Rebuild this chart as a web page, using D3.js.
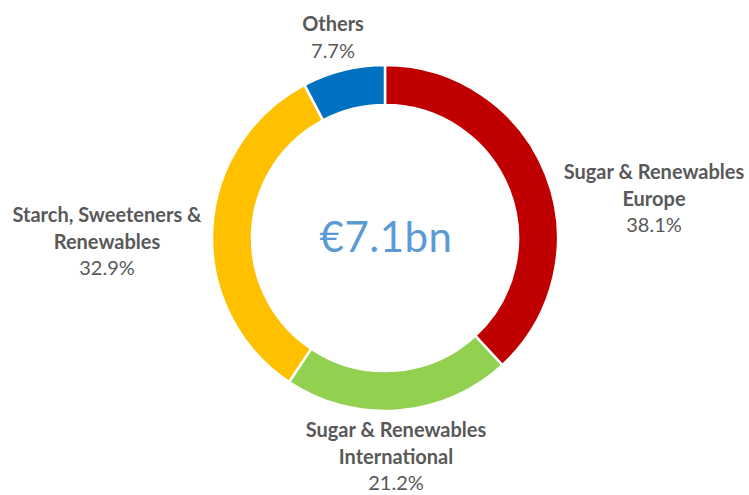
<!DOCTYPE html>
<html>
<head>
<meta charset="utf-8">
<script src="https://cdn.jsdelivr.net/npm/d3@7"></script>
<style>
  html, body { margin: 0; padding: 0; background: #ffffff; }
  svg { display: block; }
</style>
</head>
<body>
<svg id="chart" width="749" height="495"></svg>
<script>
// Segment revenue split, clockwise from 12 o'clock
const segments = [
  "Sugar & Renewables Europe",
  "Sugar & Renewables International",
  "Starch, Sweeteners & Renewables",
  "Others"
];
const shares = [38.1, 21.2, 32.9, 7.7];
const labelLines = [
  ["Sugar & Renewables", "Europe"],
  ["Sugar & Renewables", "International"],
  ["Starch, Sweeteners &", "Renewables"],
  ["Others"]
];
const colors = ["#C00000", "#92D050", "#FFC000", "#0070C0"];
const totalLabel = "€7.1bn";

// Layout
const cx = 385, cy = 238;
const outerR = 173, innerR = 133;
// label block anchors: centre x and first-line baseline
const labelAnchors = [
  { x: 654, y: 179 },
  { x: 396, y: 437 },
  { x: 107, y: 222 },
  { x: 333, y: 31 }
];
const lineGap = 26.5;

const svg = d3.select("#chart");
const g = svg.append("g").attr("transform", `translate(${cx},${cy})`);

const data = segments.map((name, i) => ({ name, value: shares[i], i }));

const pie = d3.pie()
  .value(d => d.value)
  .sort(null)
  .startAngle(0)
  .endAngle(2 * Math.PI);

const arc = d3.arc().innerRadius(innerR).outerRadius(outerR);

g.selectAll("path.slice")
  .data(pie(data))
  .join("path")
  .attr("class", "slice")
  .attr("d", arc)
  .attr("fill", d => colors[d.data.i])
  .attr("stroke", "#ffffff")
  .attr("stroke-width", 2.5)
  .attr("stroke-linejoin", "miter");

// Centre total
g.append("text")
  .attr("x", 1)
  .attr("y", 14)
  .attr("text-anchor", "middle")
  .attr("font-family", "Lato, 'Open Sans', sans-serif")
  .attr("font-size", 42)
  .attr("letter-spacing", 0.5)
  .attr("fill", "#5B9BD5")
  .text(totalLabel);

// Category labels with percentage
const labels = svg.selectAll("g.label")
  .data(data)
  .join("g")
  .attr("class", "label")
  .attr("transform", d => `translate(${labelAnchors[d.i].x},${labelAnchors[d.i].y})`);

labels.each(function (d) {
  const sel = d3.select(this);
  const lines = labelLines[d.i];
  lines.forEach((line, k) => {
    sel.append("text")
      .attr("x", 0)
      .attr("y", k * lineGap)
      .attr("text-anchor", "middle")
      .attr("font-family", "Lato, 'Noto Sans', sans-serif")
      .attr("font-weight", 700)
      .attr("font-size", 20)
      .attr("fill", "#595959")
      .text(line);
  });
  sel.append("text")
    .attr("x", 0)
    .attr("y", lines.length * lineGap)
    .attr("text-anchor", "middle")
    .attr("font-family", "Lato, 'Noto Sans', sans-serif")
    .attr("font-size", 20)
    .attr("fill", "#595959")
    .text(d3.format(".1f")(d.value) + "%");
});
</script>
</body>
</html>
